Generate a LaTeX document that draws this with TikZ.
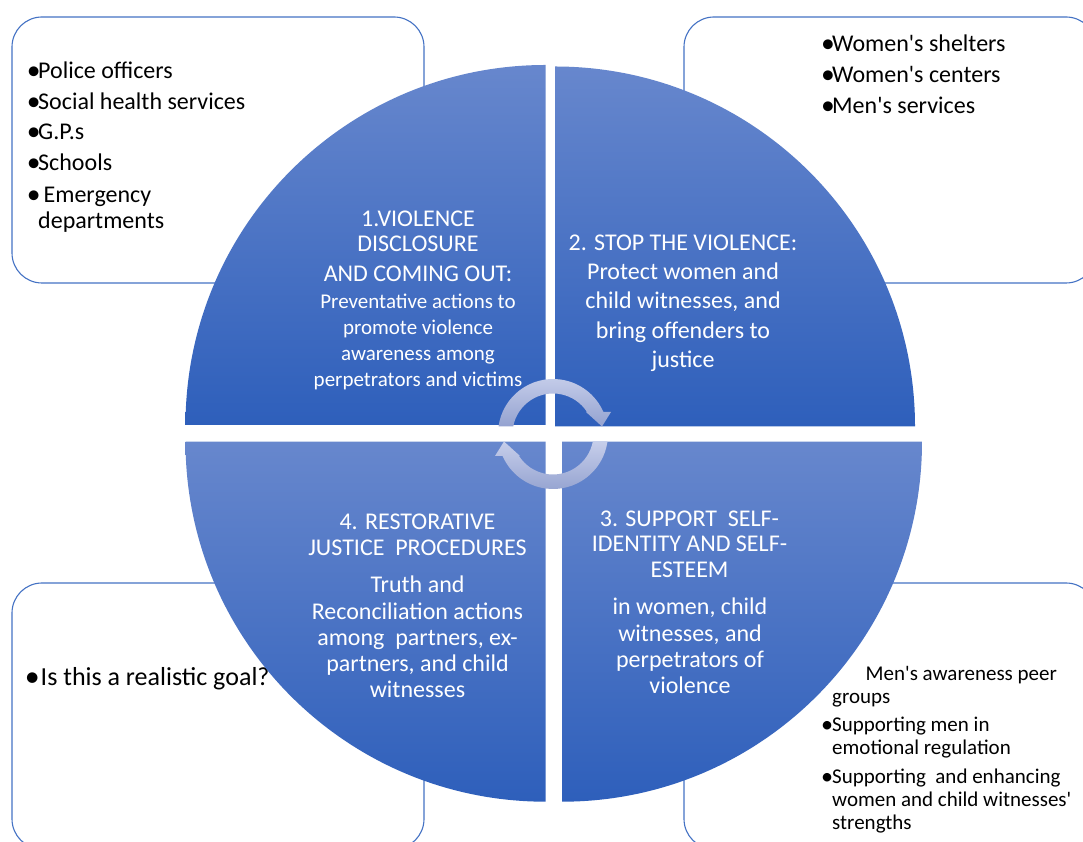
\documentclass[tikz,border=0pt]{standalone}
\usepackage{graphicx}
\usepackage{fontspec}
\setmainfont{Carlito}
\newfontfamily\carl{Carlito}
\definecolor{boxblue}{RGB}{68,114,196}
\definecolor{qtop}{RGB}{103,135,205}
\definecolor{qbot}{RGB}{46,95,187}
\definecolor{rtop}{RGB}{198,206,234}
\definecolor{rbot}{RGB}{148,162,208}
\newcommand\fsz[2]{\carl\fontsize{#1}{#2}\selectfont}
\newcommand\bdot{\hspace*{-1.2pt}\raisebox{-0.03em}{\scalebox{1.15}{•}}}
\newcommand\bul{\makebox[10pt][l]{\bdot}}
\begin{document}
\begin{tikzpicture}[x=1pt,y=1pt,
  box/.style={draw=boxblue, line width=1.1pt, rounded corners=30pt, fill=white},
  quad/.style={top color=qtop, bottom color=qbot, draw=none},
  ringarrow/.style={top color=rtop, bottom color=rbot, draw=none},
  qtext/.style={text=white, align=center, inner sep=0pt, anchor=base},
  ltext/.style={text=black, align=left, inner sep=0pt, anchor=base west}]
\useasboundingbox (0,0) rectangle (1083,842);
\clip (0,0) rectangle (1083,842);
% side boxes
\path[box] (12,559) rectangle (424,825);
\path[box] (684,559) rectangle (1096,825);
\path[box] (12,-7) rectangle (424,259);
\path[box] (684,-7) rectangle (1096,259);
% box texts (base anchor = baseline of the last line)
\node[ltext, font=\fsz{24}{26}] (tl) at (28,613.5)
  {\bul Police officers\\[5pt]\bul Social health services\\[4pt]\bul G.P.s\\[5pt]\bul Schools\\[5.5pt]\bul\ Emergency\\\hspace*{10pt}departments};
\node[ltext, font=\fsz{24}{31}] (tr) at (822,728.5)
  {\bul Women's shelters\\\bul Women's centers\\\bul Men's services};
\node[ltext, font=\fsz{26}{28}] (bl) at (26,156.3)
  {\makebox[14.5pt][l]{\bdot}Is this a realistic goal?};
\node[ltext, font=\fsz{21}{23.3}] (br) at (822,12)
  {\hspace*{43.5pt}Men's awareness peer\\\hspace*{10pt}groups\\[4.4pt]\bul Supporting men in\\\hspace*{10pt}emotional regulation\\[5.4pt]\bul Supporting\ \ and enhancing\\\hspace*{10pt}women and child witnesses'\\\hspace*{10pt}strengths};
% quadrants
\path[quad] (545.5,417) -- (185.5,417) arc[start angle=180, end angle=90, radius=360] -- cycle;
\path[quad] (555,415.5) -- (555,775.5) arc[start angle=90, end angle=0, radius=360] -- cycle;
\path[quad] (562,400.3) -- (922,400.3) arc[start angle=0, end angle=-90, radius=360] -- cycle;
\path[quad] (545.5,400.3) -- (545.5,40.3) arc[start angle=-90, end angle=-180, radius=360] -- cycle;
% quadrant texts
\node[qtext, font=\fsz{24}{25.5}] (q1h) at (418,560.3)
  {1.VIOLENCE\\DISCLOSURE\\[4.5pt]AND COMING OUT:};
\node[qtext, font=\fsz{21}{26}] (q1b) at (418,455)
  {Preventative actions to\\promote violence\\awareness among\\perpetrators and victims};
\node[qtext, font=\fsz{24}{29.3}] (q2) at (683,474.5)
  {2. STOP THE VIOLENCE:\\Protect women and\\child witnesses, and\\bring offenders to\\justice};
\node[qtext, font=\fsz{24}{25.4}] (q3h) at (689.5,264.8)
  {3. SUPPORT\ \ SELF-\\IDENTITY AND SELF-\\ESTEEM};
\node[qtext, font=\fsz{24}{26.4}] (q3b) at (690,148)
  {in women, child\\witnesses, and\\perpetrators of\\violence};
\node[qtext, font=\fsz{24}{26}] (q4h) at (417.5,286.3)
  {4. RESTORATIVE\\JUSTICE\ \ PROCEDURES};
\node[qtext, font=\fsz{24}{26.25}] (q4b) at (417.5,144.2)
  {Truth and\\Reconciliation actions\\among\ \ partners, ex-\\partners, and child\\witnesses};
% circular arrows
\begin{scope}[shift={(553,408)}]
\path[ringarrow] (172.16:55) arc[start angle=172.16, end angle=23.58, radius=55]
  -- (58,22) -- (49,7.5) -- (33,22) -- (32.9:40.5)
  arc[start angle=32.9, end angle=169.33, radius=40.5] -- cycle;
\path[ringarrow] (352.16:55) arc[start angle=352.16, end angle=203.58, radius=55]
  -- (-58,-22) -- (-49,-7.5) -- (-33,-22) -- (212.9:40.5)
  arc[start angle=212.9, end angle=349.33, radius=40.5] -- cycle;
\end{scope}
\end{tikzpicture}
\end{document}
